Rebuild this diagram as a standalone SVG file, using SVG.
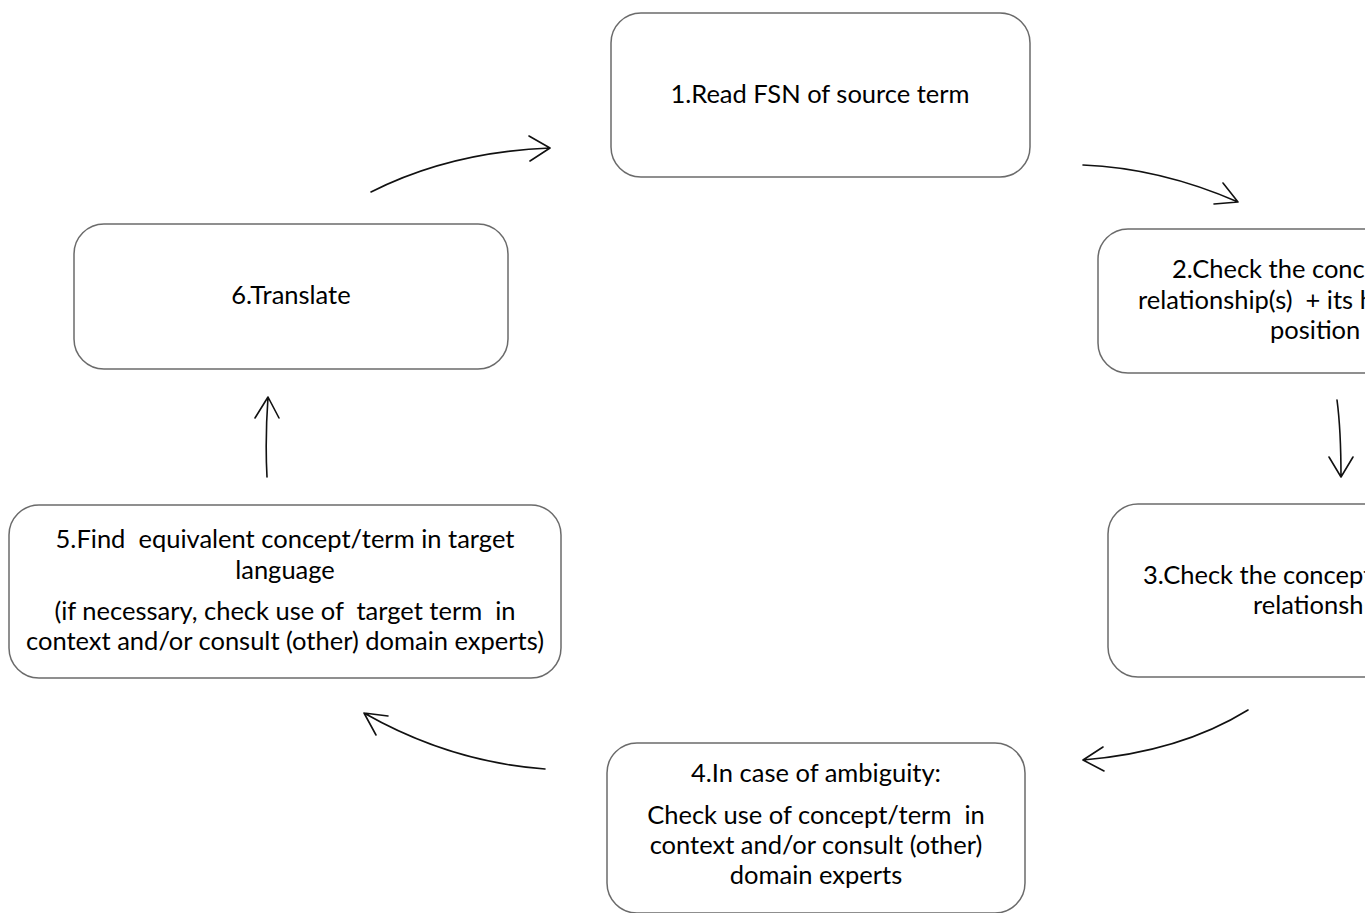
<svg xmlns="http://www.w3.org/2000/svg" width="1365" height="913" viewBox="0 0 1365 913">
<style>
.box{fill:#fff;stroke:#6b6b6b;stroke-width:1.5}
.t{font-family:Lato,"Open Sans",sans-serif;font-size:25.5px;fill:#000;text-anchor:middle}
.s{text-anchor:start}
.c{fill:none;stroke:#111;stroke-width:1.6;stroke-linecap:round;stroke-linejoin:round}
</style>
<rect width="1365" height="913" fill="#fff"/>
<g id="connectors">
<path class="c" d="M371,192 Q450,152 550,148 M529,136 L550,148 L530,161"/>
<path class="c" d="M1083,165 Q1160,168 1238,202 M1223,183 L1238,202 L1214,204"/>
<path class="c" d="M1337,400 Q1341,430 1341,477 M1329,457 L1341,477 L1353,457"/>
<path class="c" d="M1248,710 Q1180,752 1083,760 M1103,747 L1083,760 L1104,771"/>
<path class="c" d="M545,769 Q450,762 364,713 M388,716 L364,713 L376,735"/>
<path class="c" d="M267,477 Q265,440 268,397 M255,418 L268,397 L279,418"/>
</g>
<g id="node1">
<rect class="box" x="611" y="13" width="419" height="164" rx="30"/>
<text class="t" x="820" y="103">1.Read FSN of source term</text>
</g>
<g id="node2">
<rect class="box" x="1098" y="229" width="440" height="144" rx="30"/>
<text class="t s" x="1172" y="278">2.Check the conce</text>
<text class="t s" x="1138" y="309" xml:space="preserve">relationship(s)  + its h</text>
<text class="t s" x="1270" y="339">position</text>
</g>
<g id="node3">
<rect class="box" x="1108" y="504" width="440" height="173" rx="30"/>
<text class="t s" x="1143" y="584">3.Check the concept</text>
<text class="t s" x="1253" y="614">relationsh</text>
</g>
<g id="node4">
<rect class="box" x="607" y="743" width="418" height="170" rx="30"/>
<text class="t" x="816" y="782">4.In case of ambiguity:</text>
<text class="t" x="816" y="824" xml:space="preserve">Check use of concept/term  in</text>
<text class="t" x="816" y="854">context and/or consult (other)</text>
<text class="t" x="816" y="884">domain experts</text>
</g>
<g id="node5">
<rect class="box" x="9" y="505" width="552" height="173" rx="30"/>
<text class="t" x="285" y="548" xml:space="preserve">5.Find  equivalent concept/term in target</text>
<text class="t" x="285" y="579">language</text>
<text class="t" x="285" y="620" xml:space="preserve">(if necessary, check use of  target term  in</text>
<text class="t" x="285" y="650">context and/or consult (other) domain experts)</text>
</g>
<g id="node6">
<rect class="box" x="74" y="224" width="434" height="145" rx="30"/>
<text class="t" x="291" y="304">6.Translate</text>
</g>
</svg>
